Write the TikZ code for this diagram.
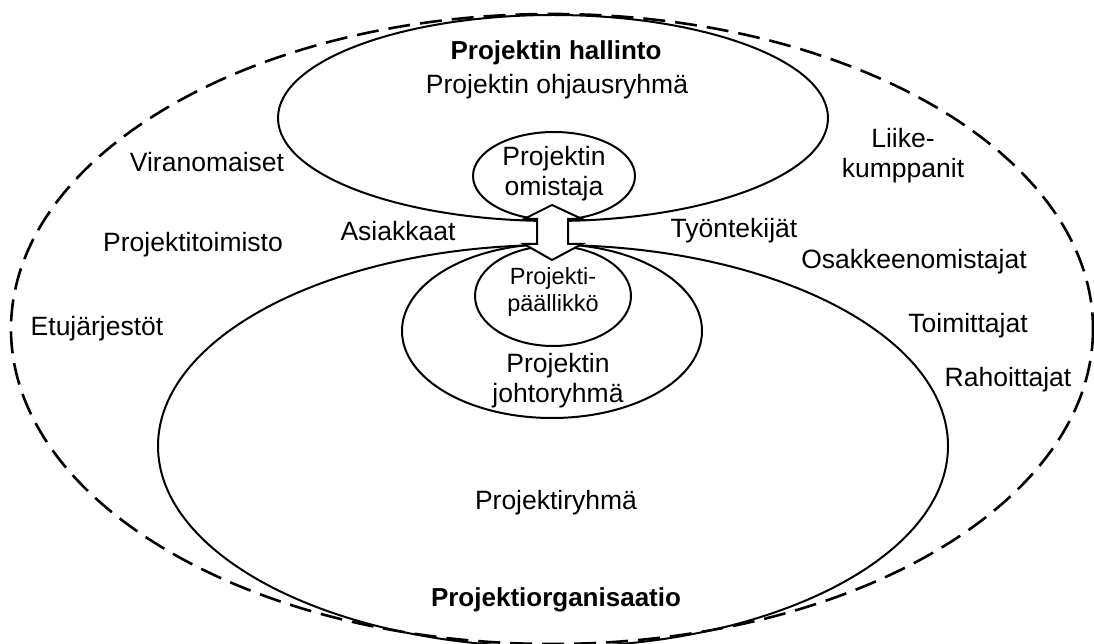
\documentclass[tikz,border=0pt]{standalone}
\usepackage{fontspec}
\setmainfont{Liberation Sans}
\begin{document}
\begin{tikzpicture}[x=1pt,y=-1pt,
  lbl/.style={font=\fontsize{26.5}{30}\selectfont, align=center, inner sep=0pt},
  blbl/.style={lbl, font=\fontsize{26}{30}\selectfont\bfseries},
  ring/.style={line width=2pt},
  outer/.style={line width=2.6pt, dash pattern=on 22pt off 10pt}]
\useasboundingbox (0,0) rectangle (1094,644);
\clip (0,0) rectangle (1094,644);
\fill[white] (0,0) rectangle (1094,644);
% outer dashed ellipse
\draw[outer] (552,329) ellipse [x radius=541, y radius=315];
% Projektin hallinto
\draw[ring, fill=white] (553,118) ellipse [x radius=275, y radius=103];
% Projektiorganisaatio
\draw[ring] (553,446) ellipse [x radius=395, y radius=201];
% Projektin johtoryhma
\draw[ring] (552,331) ellipse [x radius=150, y radius=87];
% omistaja
\draw[ring] (554,176) ellipse [x radius=81, y radius=44];
% paallikko
\draw[ring] (553,296) ellipse [x radius=78, y radius=50];
% double arrow
\draw[ring, fill=white, line join=miter]
  (552,205) -- (582,219) -- (568,219) -- (568,244) -- (582,244) -- (552,260)
  -- (524,244) -- (537,244) -- (537,219) -- (524,219) -- cycle;
% texts
\node[blbl] (hal) at (556,53) {Projektin hallinto};
\node[lbl] (ohj) at (557,87) {Projektin ohjausryhmä};
\node[lbl] (omi) at (554,174) {Projektin\\omistaja};
\node[lbl, font=\fontsize{23.5}{27}\selectfont] (paa) at (553,292) {Projekti-\\päällikkö};
\node[lbl] (joh) at (558,381) {Projektin\\johtoryhmä};
\node[lbl] (ryh) at (556,503) {Projektiryhmä};
\node[blbl] (org) at (556,600) {Projektiorganisaatio};
\node[lbl] (vir) at (207,162) {Viranomaiset};
\node[lbl] (pto) at (193,245) {Projektitoimisto};
\node[lbl] (etu) at (97,329) {Etujärjestöt};
\node[lbl] (asi) at (398,231) {Asiakkaat};
\node[lbl] (tyo) at (734,231) {Työntekijät};
\node[lbl] (lii) at (903,156) {Liike-\\kumppanit};
\node[lbl] (osa) at (914,262) {Osakkeenomistajat};
\node[lbl] (toi) at (968,326) {Toimittajat};
\node[lbl] (rah) at (1008,380) {Rahoittajat};
\end{tikzpicture}
\end{document}
